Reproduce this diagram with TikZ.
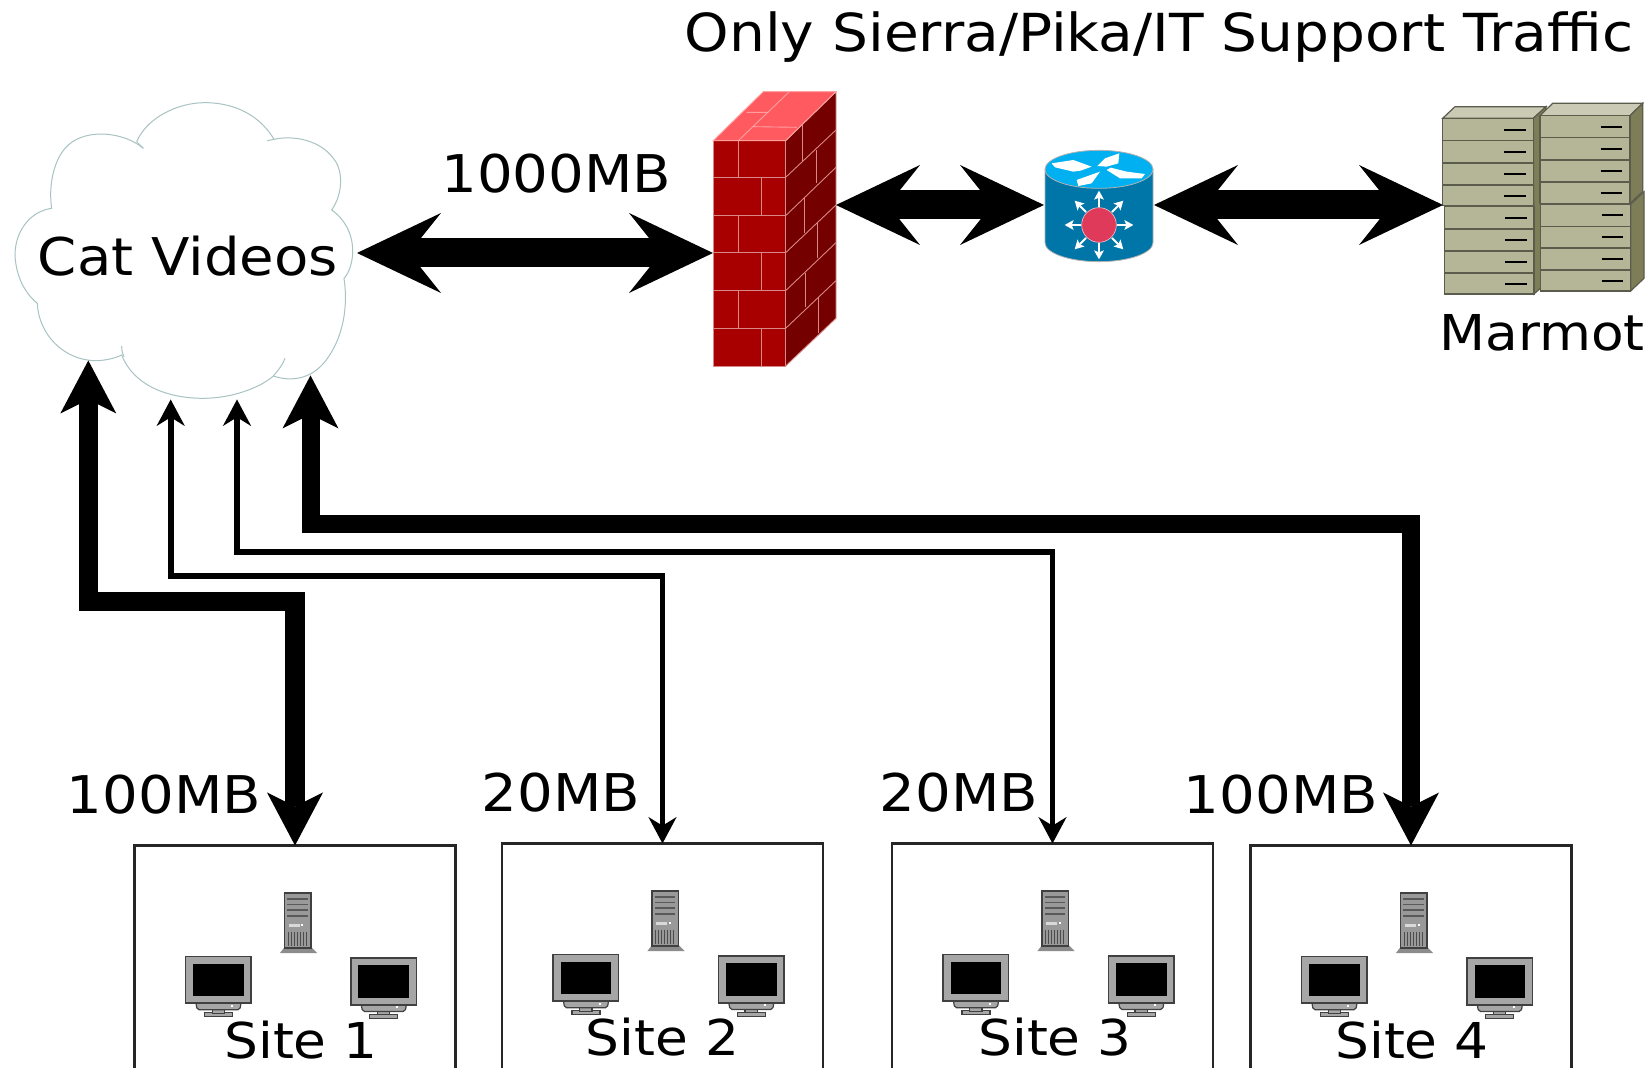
\documentclass[tikz,border=0pt]{standalone}
\usepackage{fontspec}
\setmainfont[FakeStretch=1.08]{DejaVu Sans}
\usetikzlibrary{arrows.meta}
\definecolor{fwfront}{HTML}{A80000}
\definecolor{fwtop}{HTML}{FF5A60}
\definecolor{fwside}{HTML}{740000}
\definecolor{fwline}{HTML}{D98888}
\definecolor{fwlinetop}{HTML}{FFA0A0}
\definecolor{rtop}{HTML}{00B0F0}
\definecolor{rbody}{HTML}{0076A8}
\definecolor{rdot}{HTML}{E03A5A}
\definecolor{sfront}{HTML}{B5B598}
\definecolor{sside}{HTML}{7D7D58}
\definecolor{stop}{HTML}{CBCBB5}
\definecolor{sline}{HTML}{5C5C4C}
\definecolor{cloudline}{HTML}{A9C2C2}
\tikzset{
  lbl/.style={font=\fontsize{26pt}{30pt}\selectfont, inner sep=0pt, anchor=base, text=black},
  lblsmall/.style={lbl, font=\fontsize{24.7pt}{30pt}\selectfont},
  sitebox/.style={draw=black!85, line width=1.25pt, minimum width=160.5pt, minimum height=140pt, anchor=north, fill=white, inner sep=0pt, outer sep=0pt},
  bigtip/.tip={Stealth[length=42pt,width=40pt,inset=16pt,line width=0pt]},
  midtip/.tip={Stealth[length=26.5pt,width=28pt,inset=7pt,line width=0pt]},
  thintip/.tip={Stealth[length=13.3pt,width=14.2pt,inset=4.4pt,line width=0pt]},
  bigarrow/.style={line width=14.5pt, {bigtip}-{bigtip}},
  midarrow/.style={line width=#1, {midtip}-{midtip}},
  thinarrow/.style={line width=2.9pt, {thintip}-{thintip}},
  brick/.style={draw=fwline, line width=0.45pt},
  srv/.style={draw=sline, line width=0.6pt},
  srvd/.style={draw=black, line width=0.9pt},
  pcline/.style={draw=black!75, line width=0.6pt},
  pics/hosts/.style={code={
    \begin{scope}[scale=1/3, shift={(-42,-17)}]
      % tower
      \fill[fill=black!45] (478,340) -- (492,322) -- (572,322) -- (590,340) -- cycle;
      \draw[pcline, fill=black!40, line width=0.8pt] (492,160) rectangle (572,325);
      \foreach \yy in {175,192,209,226} {\fill[black!65] (500,\yy) rectangle (562,\yy+5);}
      \fill[black!15] (505,253) rectangle (538,262);
      \fill[white] (543,254) rectangle (549,260);
      \foreach \xx in {503,512,521,530,539,548,557} {\draw[black!70, line width=0.4pt] (\xx,276) -- (\xx,318);}
      % monitors
      \foreach \dx/\dy in {0/0, 496/5} {
        \begin{scope}[shift={(\dx,\dy)}]
          \draw[pcline, fill=black!35] (252,518) rectangle (336,531);
          \draw[pcline, fill=black!35] (275,505) rectangle (312,520);
          \draw[pcline, fill=black!35, rounded corners=1pt] (226,488) -- (230,510) -- (358,510) -- (362,488) -- cycle;
          \draw[pcline, fill=black!35, line width=0.8pt] (195,350) rectangle (392,490);
          \fill[black] (218,372) rectangle (370,470);
          \fill[white] (332,495) rectangle (338,501);
        \end{scope}
      }
    \end{scope}
  }}
}
\begin{document}
\begin{tikzpicture}[x=0.5pt,y=-0.5pt]
\path[use as bounding box, clip] (0,0) rectangle (1651,1068);
\fill[white] (0,0) rectangle (1651,1068);

% cloud
\begin{scope}[shift={(0,90)},scale=1/3]
  \filldraw[fill=white, draw=cloudline, line width=0.5pt]
    (430,175) .. controls (370,125) and (260,115) .. (205,165)
    .. controls (160,205) and (145,290) .. (155,355)
    .. controls (85,365) and (45,430) .. (45,495)
    .. controls (48,560) and (75,610) .. (112,640)
    .. controls (115,730) and (190,815) .. (295,812)
    .. controls (320,810) and (345,805) .. (365,795)
    .. controls (400,885) and (500,925) .. (610,925)
    .. controls (700,925) and (785,890) .. (820,858)
    .. controls (870,875) and (930,870) .. (975,815)
    .. controls (1030,745) and (1045,650) .. (1032,565)
    .. controls (1065,530) and (1080,420) .. (995,360)
    .. controls (1030,310) and (1030,240) .. (1000,205)
    .. controls (960,150) and (880,135) .. (822,148)
    .. controls (770,60) and (680,38) .. (615,38)
    .. controls (530,38) and (440,85) .. (410,155);
  \draw[cloudline, line width=0.5pt] (822,148) -- (802,152);
  \draw[cloudline, line width=0.5pt] (410,155) -- (430,175);
  \draw[cloudline, line width=0.5pt] (365,768) .. controls (365,778) and (365,785) .. (372,800);
  \draw[cloudline, line width=0.5pt] (820,858) .. controls (835,840) and (848,825) .. (855,805);
\end{scope}

% firewall
\begin{scope}[shift={(690,70)},scale=1/3]
  \fill[fwfront] (70,212) rectangle (287,888);
  \fill[fwtop] (70,212) -- (220,65) -- (438,65) -- (287,212) -- cycle;
  \fill[fwside] (287,212) -- (438,65) -- (438,745) -- (287,888) -- cycle;
  \draw[brick] (70,212) rectangle (287,888);
  \draw[brick] (70,322) -- (287,322) (70,437) -- (287,437) (70,548) -- (287,548) (70,662) -- (287,662) (70,775) -- (287,775);
  \draw[brick] (145,212) -- (145,322) (215,322) -- (215,437) (145,437) -- (145,548) (215,548) -- (215,662) (145,662) -- (145,775) (215,775) -- (215,888);
  \draw[brick] (287,888) -- (438,745) -- (438,65) -- (287,212);
  \draw[brick] (287,322) -- (438,180) (287,437) -- (438,292) (287,548) -- (438,405) (287,662) -- (438,518) (287,775) -- (438,632);
  \draw[brick] (337,165) -- (337,275) (378,240) -- (378,340) (343,385) -- (343,490) (382,460) -- (382,565) (346,610) -- (346,710) (386,680) -- (386,790);
  \draw[draw=fwlinetop, line width=0.45pt] (70,212) -- (220,65) -- (438,65) -- (287,212) -- cycle;
  \draw[draw=fwlinetop, line width=0.45pt] (145,212) -- (298,65) (170,127) -- (235,127) (190,170) -- (320,172);
\end{scope}

% router
\begin{scope}[shift={(690,70)},scale=1/3]
  \filldraw[fill=rbody, draw=black!30, line width=0.4pt] (1065,298) -- (1065,518) arc[start angle=180, end angle=0, x radius=162, y radius=57] -- (1389,298) -- cycle;
  \filldraw[fill=rtop, draw=black!30, line width=0.4pt] (1227,298) ellipse[x radius=162, y radius=57];
  \fill[white] (1085,280) -- (1150,270) -- (1172,278) -- (1205,290) -- (1172,302) -- (1150,305) -- (1095,292) -- cycle;
  \fill[white] (1222,288) -- (1245,265) -- (1288,250) -- (1285,280) -- (1250,290) -- cycle;
  \fill[white] (1250,300) -- (1262,293) -- (1310,305) -- (1365,312) -- (1355,325) -- (1290,325) -- cycle;
  \fill[white] (1160,330) -- (1230,305) -- (1205,340) -- (1165,348) -- cycle;
  \foreach \ang in {0,45,...,315} {
    \draw[white, line width=0.9pt, -{Stealth[length=4.5pt,width=5pt,inset=1pt,line width=0pt]}] (1227,465) ++(\ang:55) -- ++(\ang:48);
  }
  \filldraw[fill=rdot, draw=white!70!rdot, line width=0.3pt] (1227,465) circle[radius=52];
\end{scope}

% marmot servers
\begin{scope}[shift={(1420,90)},scale=1/3]
  \filldraw[fill=stop, srv] (68,85) -- (105,50) -- (378,50) -- (340,85) -- cycle;
  \filldraw[fill=sside, srv] (340,85) -- (378,50) -- (378,580) -- (342,612) -- cycle;
  \filldraw[fill=sfront, srv] (68,85) rectangle (340,346);
  \filldraw[fill=sfront, srv] (73,350) rectangle (342,612);
  \draw[srv] (68,152) -- (340,152) (73,417) -- (342,417);
  \draw[srv, line width=1pt] (68,218) -- (340,218) (68,285) -- (340,285) (73,483) -- (342,483) (73,550) -- (342,550);
  \foreach \yy in {120,187,252,318} {\draw[srvd] (252,\yy) -- (318,\yy);}
  \foreach \yy in {384,451,516,582} {\draw[srvd] (255,\yy) -- (322,\yy);}
  \filldraw[fill=stop, srv] (360,77) -- (398,40) -- (668,40) -- (630,77) -- cycle;
  \filldraw[fill=sside, srv] (630,77) -- (668,40) -- (668,305) -- (630,340) -- cycle;
  \filldraw[fill=sside, srv] (632,343) -- (672,305) -- (672,565) -- (632,603) -- cycle;
  \filldraw[fill=sfront, srv] (360,77) rectangle (630,340);
  \filldraw[fill=sfront, srv] (362,343) rectangle (632,603);
  \draw[srv] (360,143) -- (630,143) (362,409) -- (632,409);
  \draw[srv, line width=1pt] (360,210) -- (630,210) (360,275) -- (630,275) (362,475) -- (632,475) (362,541) -- (632,541);
  \foreach \yy in {112,178,243,309} {\draw[srvd] (542,\yy) -- (607,\yy);}
  \foreach \yy in {376,442,508,573} {\draw[srvd] (545,\yy) -- (610,\yy);}
\end{scope}

% sites
\node[sitebox] (site1) at (295,845.5) {};
\node[sitebox] (site2) at (662.5,843.5) {};
\node[sitebox] (site3) at (1052.5,843.5) {};
\node[sitebox] (site4) at (1411,845.5) {};
\pic at (site1.north west) {hosts};
\pic at (site2.north west) {hosts};
\pic at (site3.north west) {hosts};
\pic at (site4.north west) {hosts};

% connector ends
\coordinate (cloudE) at (357,253);
\coordinate (cloudS1) at (88.3,360.5);
\coordinate (cloudS2) at (170.7,399.5);
\coordinate (cloudS3) at (237,399.5);
\coordinate (cloudS4) at (310.5,375.5);
\coordinate (fwW) at (713,253);
\coordinate (fwE) at (836,205);
\coordinate (rtW) at (1044,205);
\coordinate (rtE) at (1154,205);
\coordinate (mmW) at (1443,205);

\draw[bigarrow] (cloudE) -- (fwW);
\draw[bigarrow] (fwE) -- (rtW);
\draw[bigarrow] (rtE) -- (mmW);
\draw[midarrow=9.6pt] (cloudS1) -- ++(0,241) -| (site1.north);
\draw[thinarrow] (cloudS2) -- ++(0,176.5) -| (site2.north);
\draw[thinarrow] (cloudS3) -- ++(0,152.5) -| (site3.north);
\draw[midarrow=9pt] (cloudS4) -- ++(0,149) -| (site4.north);

% labels
\node[lbl, font=\fontsize{26.2pt}{30pt}\selectfont] (title) at (1159,51.7) {Only Sierra/Pika/IT Support Traffic};
\node[lbl] (cat) at (188,276) {Cat Videos};
\node[lbl] (speed) at (556.5,192.7) {1000MB};
\node[lblsmall] (marmot) at (1542,351) {Marmot};
\node[lbl] (l1) at (164,813.5) {100MB};
\node[lbl] (l2) at (561,812) {20MB};
\node[lbl] (l3) at (959,812) {20MB};
\node[lbl] (l4) at (1281,813.5) {100MB};
\node[lblsmall] (s1) at (301,1058.5) {Site 1};
\node[lblsmall] (s2) at (662.5,1056) {Site 2};
\node[lblsmall] (s3) at (1055,1056) {Site 3};
\node[lblsmall] (s4) at (1412,1058.5) {Site 4};
\end{tikzpicture}
\end{document}
